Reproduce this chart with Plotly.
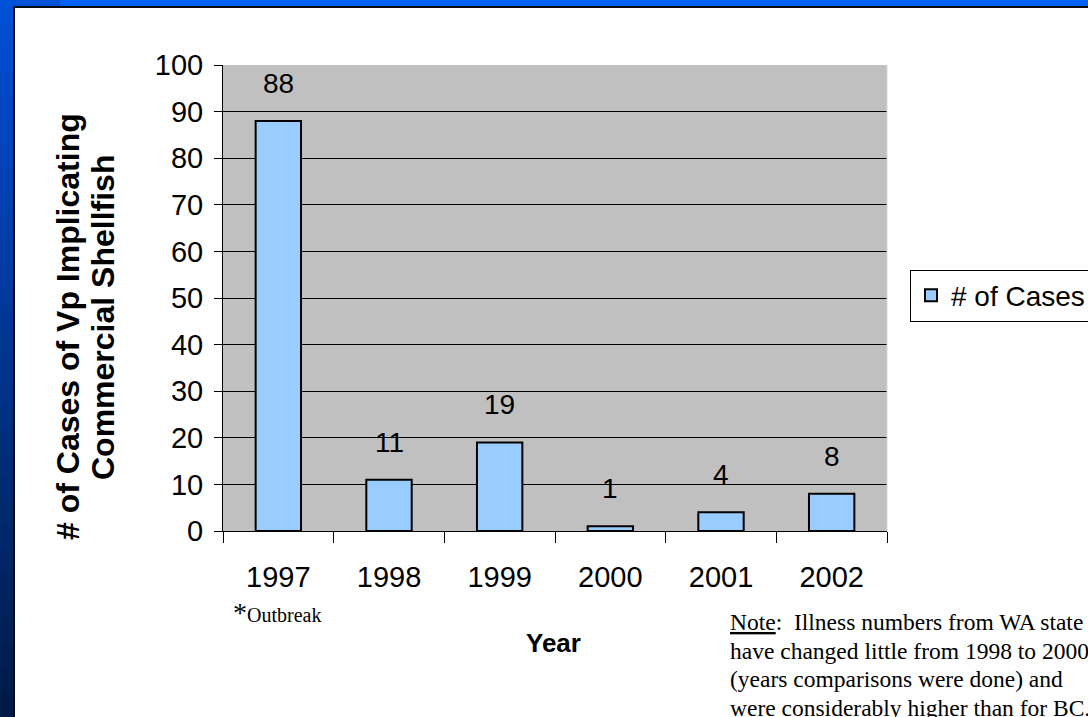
import plotly.graph_objects as go

# ---- data ----
years = ["1997", "1998", "1999", "2000", "2001", "2002"]
cases = [88, 11, 19, 1, 4, 8]
series_name = "# of Cases"
y_ticks = [0, 10, 20, 30, 40, 50, 60, 70, 80, 90, 100]
y_title_lines = ["# of Cases of Vp Implicating", "Commercial Shellfish"]
x_title = "Year"
note_lines = [
    "<u>Note</u>:  Illness numbers from WA state",
    "have changed little from 1998 to 2000",
    "(years comparisons were done) and",
    "were considerably higher than for BC.",
]

# ---- layout geometry (pixels) ----
W, H = 1088, 717
L, R, T, B = 223, 887, 65, 531


def px(x):
    return (x - L) / (R - L)


def py(y):
    return (B - y) / (B - T)


SANS = "Liberation Sans, Arial, sans-serif"
SERIF = "Liberation Serif, Times New Roman, serif"

fig = go.Figure()
fig.add_trace(go.Bar(
    x=years, y=cases, name=series_name,
    marker=dict(color="#99ccff", line=dict(color="black", width=2)),
    showlegend=True,
))

annotations = []
for i, v in enumerate(cases):
    annotations.append(dict(
        x=i, y=v, xref="x", yref="y", text=str(v), showarrow=False,
        yanchor="bottom", yshift=20,
        font=dict(family=SANS, size=28, color="black"),
    ))

# y title (two lines)
for txt, cx, cy in zip(y_title_lines, [68, 103], [327, 318]):
    annotations.append(dict(
        x=px(cx), y=py(cy), xref="paper", yref="paper", text=txt,
        showarrow=False, textangle=-90, xanchor="center", yanchor="middle",
        font=dict(family=SANS, size=32, color="black", weight="bold"),
    ))
# x title
annotations.append(dict(
    x=px(553), y=py(643), xref="paper", yref="paper", text=x_title,
    showarrow=False, xanchor="center", yanchor="middle",
    font=dict(family=SANS, size=26, color="black", weight="bold"),
))
# outbreak mark
annotations.append(dict(
    x=px(231), y=py(612), xref="paper", yref="paper",
    text='<span style="font-size:28px">*</span>Outbreak',
    showarrow=False, xanchor="left", yanchor="middle",
    font=dict(family=SERIF, size=20, color="black"),
))
# note, one annotation per line
for txt, cy in zip(note_lines, [622, 650.5, 679, 707.5]):
    annotations.append(dict(
        x=px(728), y=py(cy), xref="paper", yref="paper",
        text=txt, align="left",
        showarrow=False, xanchor="left", yanchor="middle",
        font=dict(family=SERIF, size=23.5, color="black"),
    ))

# slide frame shapes
shapes = []
n = 30
for i in range(n):
    y0 = H * i / n
    y1 = H * (i + 1) / n
    t = (i + 0.5) / n
    g = int(80 + (26 - 80) * t)
    b = int(216 + (69 - 216) * t)
    shapes.append(dict(type="rect", xref="paper", yref="paper",
                       x0=px(0), x1=px(14), y0=py(y0), y1=py(y1 + 1),
                       fillcolor=f"rgb(0,{g},{b})", line=dict(width=0), layer="below"))
shapes.append(dict(type="rect", xref="paper", yref="paper",
                   x0=px(0), x1=px(W), y0=py(0), y1=py(7),
                   fillcolor="#0062f2", line=dict(width=0), layer="below"))
shapes.append(dict(type="rect", xref="paper", yref="paper",
                   x0=px(0), x1=px(60), y0=py(0), y1=py(7),
                   fillcolor="#0052d8", line=dict(width=0), layer="below"))
shapes.append(dict(type="line", xref="paper", yref="paper",
                   x0=px(14), x1=px(14), y0=py(7), y1=py(H),
                   line=dict(color="#0a0a14", width=2)))
shapes.append(dict(type="line", xref="paper", yref="paper",
                   x0=px(14), x1=px(W), y0=py(7), y1=py(7),
                   line=dict(color="#0a0a14", width=2)))
# light right border of plot area
shapes.append(dict(type="line", xref="paper", yref="paper",
                   x0=1, x1=1, y0=0, y1=1,
                   line=dict(color="#d8d8d8", width=1)))

fig.update_layout(
    width=W, height=H,
    margin=dict(l=L, r=W - R, t=T, b=H - B, pad=0, autoexpand=False),
    paper_bgcolor="white",
    plot_bgcolor="#c0c0c0",
    bargap=0.59,
    font=dict(family=SANS, size=28, color="black"),
    showlegend=True,
    legend=dict(
        x=px(910), y=py(295.5), xanchor="left", yanchor="middle",
        bordercolor="black", borderwidth=1, bgcolor="white",
        font=dict(family=SANS, size=28, color="black"),
    ),
    annotations=annotations,
    shapes=shapes,
    xaxis=dict(
        type="category", range=[-0.5, 5.5], tickson="boundaries",
        ticks="outside", ticklen=11,
        tickcolor="black", tickwidth=1, showline=True, linecolor="black",
        linewidth=1, showgrid=False, ticklabelstandoff=20,
        tickfont=dict(family=SANS, size=29, color="black"),
    ),
    yaxis=dict(
        range=[0, 100], tickvals=y_ticks, ticks="outside", ticklen=8,
        tickcolor="black", tickwidth=1, showline=True, linecolor="black",
        linewidth=1, showgrid=True, gridcolor="black", gridwidth=1,
        zeroline=False, ticklabelstandoff=5,
        tickfont=dict(family=SANS, size=29, color="black"),
    ),
)

fig.write_html("out.html", config={"displayModeBar": False},
               post_script="document.body.style.margin='0';")
